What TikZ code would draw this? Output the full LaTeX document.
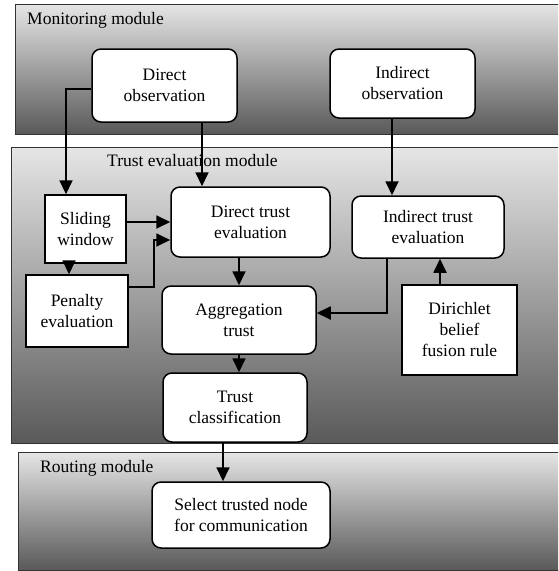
\documentclass[tikz,border=0pt]{standalone}
\usepackage{fontspec}
\setmainfont{Liberation Serif}
\usepackage{tikz}
\usetikzlibrary{arrows.meta,positioning}

\begin{document}
\begin{tikzpicture}[
    x=1pt, y=-1pt,
    panel/.style={draw=black!80, line width=0.8pt, top color=black!10, bottom color=black!65},
    lbl/.style={anchor=west, inner sep=0pt, font=\fontsize{17.5}{21}\selectfont},
    box/.style={draw, rounded corners=9pt, fill=white, align=center, line width=1.5pt,
    inner sep=2pt, font=\fontsize{17.5}{21}\selectfont},
    sbox/.style={box, rounded corners=0pt},
    arr/.style={-{Triangle[length=14pt,width=13pt]}, line width=1.8pt}
]
\clip (0,0) rectangle (558,571);
% module panels
\path[panel] (15,4) rectangle (570,134);
\path[panel] (11,147) rectangle (570,443);
\path[panel] (18,452) rectangle (570,570);
\node[lbl] (monlbl) at (27,20) {Monitoring module};
\node[lbl] (trustlbl) at (107,161) {Trust evaluation module};
\node[lbl] (routelbl) at (40,468) {Routing module};

% monitoring
\node[box, minimum width=145pt, minimum height=73pt] (dobs) at (164.5,85.5) {Direct\\observation};
\node[box, minimum width=145pt, minimum height=69pt] (iobs) at (402.5,83.5) {Indirect\\observation};
% trust evaluation
\node[sbox, minimum width=81pt, minimum height=68pt] (slide) at (85.5,229) {Sliding\\window};
\node[sbox, minimum width=102pt, minimum height=72pt] (penalty) at (77,311) {Penalty\\evaluation};
\node[box, minimum width=159pt, minimum height=70pt] (dtrust) at (250.5,222) {Direct trust\\evaluation};
\node[box, minimum width=154pt, minimum height=68pt] (agg) at (239,320) {Aggregation\\trust};
\node[box, minimum width=152pt, minimum height=62pt] (itrust) at (428,227) {Indirect trust\\evaluation};
\node[sbox, minimum width=115pt, minimum height=90pt] (dirich) at (459.5,330) {Dirichlet\\belief\\fusion rule};
\node[box, minimum width=144pt, minimum height=69pt] (tclass) at (235,407.5) {Trust\\classification};
% routing
\node[box, minimum width=178pt, minimum height=66pt] (select) at (241,515) {Select trusted node\\for communication};

\draw[arr] ([yshift=-3.5pt]dobs.west) -| ([xshift=-19.5pt]slide.north);
\draw[arr] ([xshift=37.5pt]dobs.south) -- ([xshift=37.5pt]dobs.south |- dtrust.north);
\draw[arr] ([xshift=-10.5pt]iobs.south) -- ([xshift=-10.5pt]iobs.south |- itrust.north);
\draw[arr] (slide.east |- dtrust.west) -- (dtrust.west);
\draw[arr] ([xshift=-16.5pt]slide.south) -- ([xshift=-16.5pt]slide.south |- penalty.north);
\draw[arr] ([yshift=24pt]penalty.east) -- ++(25,0) |- ([yshift=-18pt]dtrust.west);
\draw[arr] (agg.north |- dtrust.south) -- (agg.north);
\draw[arr] ([xshift=-41pt]itrust.south) |- ([yshift=7pt]agg.east);
\draw[arr] ([xshift=-19.5pt]dirich.north) -- ([xshift=-19.5pt]dirich.north |- itrust.south);
\draw[arr] (agg.south) -- (agg.south |- tclass.north);
\draw[arr] ([xshift=-12pt]tclass.south) -- ([xshift=-12pt]tclass.south |- select.north);
\end{tikzpicture}
\end{document}
